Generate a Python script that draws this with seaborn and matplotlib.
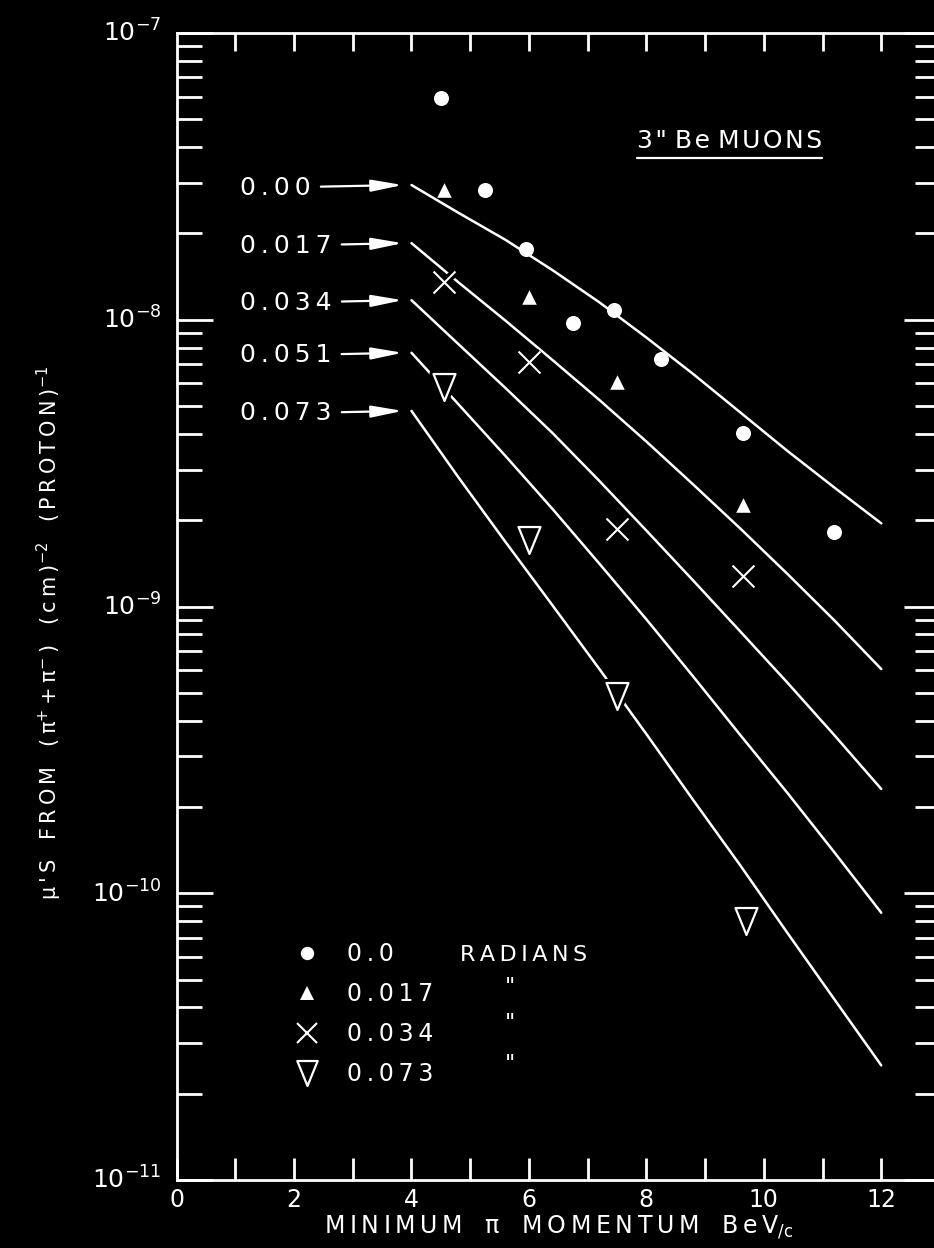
import matplotlib
matplotlib.use("Agg")
import matplotlib.pyplot as plt
import numpy as np
import pandas as pd
import seaborn as sns
from matplotlib.lines import Line2D
from matplotlib.markers import MarkerStyle
from matplotlib.path import Path
from matplotlib.ticker import FixedLocator, FuncFormatter, NullFormatter
from matplotlib.transforms import ScaledTranslation

# ---- computed muon yield curves (one per production angle, radians) ----
curve_momentum = [4.0, 4.8, 5.6, 6.4, 7.2, 8.0, 8.8, 9.6, 10.4, 11.2, 12.0]
curve_angles = ["0.00", "0.017", "0.034", "0.051", "0.073"]
curve_000 = [2.95e-8, 2.36e-8, 1.90e-8, 1.49e-8, 1.15e-8, 8.67e-9, 6.46e-9,
             4.75e-9, 3.49e-9, 2.60e-9, 1.95e-9]
curve_017 = [1.85e-8, 1.35e-8, 9.93e-9, 7.24e-9, 5.25e-9, 3.76e-9, 2.66e-9,
             1.87e-9, 1.30e-9, 8.95e-10, 6.05e-10]
curve_034 = [1.17e-8, 8.22e-9, 5.78e-9, 4.03e-9, 2.74e-9, 1.84e-9, 1.23e-9,
             8.18e-10, 5.43e-10, 3.56e-10, 2.31e-10]
curve_051 = [7.67e-9, 5.07e-9, 3.35e-9, 2.19e-9, 1.41e-9, 9.02e-10, 5.69e-10,
             3.56e-10, 2.24e-10, 1.39e-10, 8.55e-11]
curve_073 = [4.81e-9, 2.82e-9, 1.68e-9, 1.01e-9, 6.05e-10, 3.59e-10, 2.11e-10,
             1.25e-10, 7.28e-11, 4.27e-11, 2.51e-11]

# ---- measured points ----
meas_labels = ["0.0", "0.017", "0.034", "0.073"]
meas_000_p = [4.5, 5.25, 5.95, 6.75, 7.45, 8.25, 9.65, 11.2]
meas_000 = [5.93e-8, 2.83e-8, 1.77e-8, 9.75e-9, 1.08e-8, 7.30e-9, 4.03e-9, 1.82e-9]
meas_017_p = [4.55, 6.0, 7.5, 9.65]
meas_017 = [2.83e-8, 1.20e-8, 6.07e-9, 2.26e-9]
meas_034_p = [4.55, 6.0, 7.5, 9.65]
meas_034 = [1.35e-8, 7.12e-9, 1.86e-9, 1.28e-9]
meas_073_p = [4.55, 6.0, 7.5, 9.7]
meas_073 = [5.83e-9, 1.71e-9, 4.88e-10, 8.0e-11]

x_ticks = list(range(0, 13))
x_tick_labels = [str(v) if v % 2 == 0 else "" for v in x_ticks]
y_decades = [-11, -10, -9, -8, -7]

THIN = "\u2009"
HAIR = "\u200a"


def track(s, gap=THIN):
    """Open up the letter spacing of a plain string."""
    return gap.join(s)


sns.set_theme(style="dark", rc={
    "axes.facecolor": "black", "figure.facecolor": "black",
    "savefig.facecolor": "black", "axes.edgecolor": "white",
    "text.color": "white", "axes.labelcolor": "white",
    "xtick.color": "white", "ytick.color": "white", "axes.grid": False,
})
plt.rcParams["font.family"] = ["DejaVu Sans"]
plt.rcParams["mathtext.fontset"] = "dejavusans"

W, H = 934, 1248
fig = plt.figure(figsize=(W / 100, H / 100), dpi=100)
ax_l, ax_r, ax_t, ax_b = 176.6, 940.0, 33.0, 1180.0
ax = fig.add_axes([ax_l / W, 1 - ax_b / H, (ax_r - ax_l) / W, (ax_b - ax_t) / H])
ax.set_facecolor("black")
ax.set_yscale("log")

# curves
curve_values = [curve_000, curve_017, curve_034, curve_051, curve_073]
curves = pd.DataFrame({
    "p": np.tile(curve_momentum, len(curve_angles)),
    "flux": np.concatenate(curve_values),
    "angle": np.repeat(curve_angles, len(curve_momentum)),
})
sns.lineplot(data=curves, x="p", y="flux", units="angle", estimator=None,
             sort=False, color="white", lw=1.8, ax=ax, zorder=2)

# open downward triangle, a little taller than wide
tri_down = MarkerStyle(Path([(-0.815, 1.0), (0.815, 1.0), (0.0, -1.0), (-0.815, 1.0)],
                            [Path.MOVETO, Path.LINETO, Path.LINETO, Path.CLOSEPOLY]))

# knock out the curve under the open symbols
sns.scatterplot(x=meas_034_p, y=meas_034, marker="x", s=250, color="black",
                linewidth=6, ax=ax, zorder=3)
sns.scatterplot(x=meas_073_p, y=meas_073, marker=tri_down, s=377, color="black",
                edgecolor="black", linewidth=6, ax=ax, zorder=3)

sns.scatterplot(x=meas_000_p, y=meas_000, marker="o", s=117, color="white",
                edgecolor="white", linewidth=0, ax=ax, zorder=4)
sns.scatterplot(x=meas_017_p, y=meas_017, marker="^", s=110, color="white",
                edgecolor="white", linewidth=0, ax=ax, zorder=4)
sns.scatterplot(x=meas_034_p, y=meas_034, marker="x", s=250, color="white",
                linewidth=1.5, ax=ax, zorder=4)
sns.scatterplot(x=meas_073_p, y=meas_073, marker=tri_down, s=377, color="black",
                edgecolor="white", linewidth=1.6, ax=ax, zorder=4)

ax.set_xlim(0, 13)
ax.set_ylim(1e-11, 1e-7)

# axes frame and ticks
for sp in ax.spines.values():
    sp.set_color("white")
    sp.set_linewidth(2.0)
ax.xaxis.remove_overlapping_locs = False
ax.xaxis.set_major_locator(FixedLocator(x_ticks))
ax.xaxis.set_major_formatter(FuncFormatter(lambda v, pos: x_tick_labels[int(round(v))]))
ax.xaxis.set_minor_locator(FixedLocator(x_ticks[1:]))
ax.xaxis.set_minor_formatter(NullFormatter())
ax.tick_params(axis="x", which="major", direction="in", length=16, width=2,
               bottom=True, top=False, labelsize=17, pad=6, colors="white")
ax.tick_params(axis="x", which="minor", direction="in", length=13, width=2,
               bottom=False, top=True, colors="white")

major_y = [10.0 ** d for d in y_decades]
minor_y = [m * 10.0 ** d for d in y_decades[:-1] for m in range(2, 10)]
ax.yaxis.set_major_locator(FixedLocator(major_y))
ax.yaxis.set_minor_locator(FixedLocator(minor_y))
ax.yaxis.set_major_formatter(FuncFormatter(
    lambda v, pos: r"$\mathregular{10^{%d}}$" % int(round(np.log10(v)))))
ax.yaxis.set_minor_formatter(NullFormatter())
ax.tick_params(axis="y", which="major", direction="in", length=26, width=2,
               left=True, right=True, labelsize=18, pad=11, colors="white")
ax.tick_params(axis="y", which="minor", direction="in", length=18, width=2,
               left=True, right=True, colors="white")
ax.grid(False)

# axis titles
xlab = (track("MINIMUM") + "   π   " + track("MOMENTUM") + "   " + track("BeV")
        + r"$_{/\mathregular{c}}$")
ax.set_xlabel(xlab, fontsize=17, color="white", labelpad=1)
ylab = (track("μ'S") + "   " + track("FROM") + "   "
        + "(" + THIN + r"π$^{+}$" + THIN + "+" + THIN + r"π$^{-}$" + THIN + ")" + "   "
        + track("(cm)") + r"$^{-2}$" + "   " + track("(PROTON)") + r"$^{-1}$")
ax.set_ylabel(ylab, fontsize=15, color="white")
ax.yaxis.set_label_coords(-0.1475, 0.477)

# curve labels with arrows pointing at the start of each curve
for name, vals in zip(curve_angles, curve_values):
    ax.annotate(track(name), xy=(3.85, vals[0]), xytext=(1.08, vals[0]),
                ha="left", va="center_baseline", color="white", fontsize=18,
                arrowprops=dict(arrowstyle="-|>,head_length=0.95,head_width=0.18",
                                color="white", lw=1.6, shrinkA=5, shrinkB=0,
                                mutation_scale=20))

title = ax.text(0.603, 0.9076, track('3"', HAIR) + " " + track("Be", HAIR) + " "
                + track("MUONS", HAIR), transform=ax.transAxes,
                ha="left", va="center_baseline", fontsize=18, color="white")

# symbol key
handles = [
    Line2D([], [], ls="none", marker="o", ms=9.6, mfc="white", mec="white", mew=0),
    Line2D([], [], ls="none", marker="^", ms=10, mfc="white", mec="white", mew=0),
    Line2D([], [], ls="none", marker="x", ms=14.5, color="white", mew=1.5),
    Line2D([], [], ls="none", marker=tri_down, ms=18, mfc="black", mec="white", mew=1.6),
]
leg = ax.legend(handles, [track(s) for s in meas_labels], loc="upper left",
                bbox_to_anchor=(0.1525, 0.2075), frameon=False, fontsize=17,
                labelcolor="white", handlelength=1.2, handletextpad=1.1,
                labelspacing=0.68, borderpad=0, borderaxespad=0)
ax.text(0.371, 0.198, track("RADIANS"), transform=ax.transAxes, ha="left",
        va="center_baseline", fontsize=16, color="white")
for yy in (0.168, 0.1369, 0.1011):
    ax.text(0.437, yy, '"', transform=ax.transAxes, ha="center", va="center",
            fontsize=16, color="white")

# put the "10" of each decade label level with its tick
for lab in ax.yaxis.get_majorticklabels():
    lab.set_va("baseline")
    lab.set_transform(lab.get_transform() + ScaledTranslation(0, -6.5 / 72, fig.dpi_scale_trans))

# underline the heading
fig.canvas.draw()
bb = title.get_window_extent()
inv = ax.transAxes.inverted()
(ux0, uy), (ux1, _) = inv.transform([(bb.x0, bb.y0 - 5), (bb.x1, bb.y0 - 5)])
ax.plot([ux0, ux1], [uy, uy], transform=ax.transAxes, color="white", lw=1.6, clip_on=False)

fig.savefig("out.png", dpi=100, facecolor="black")
